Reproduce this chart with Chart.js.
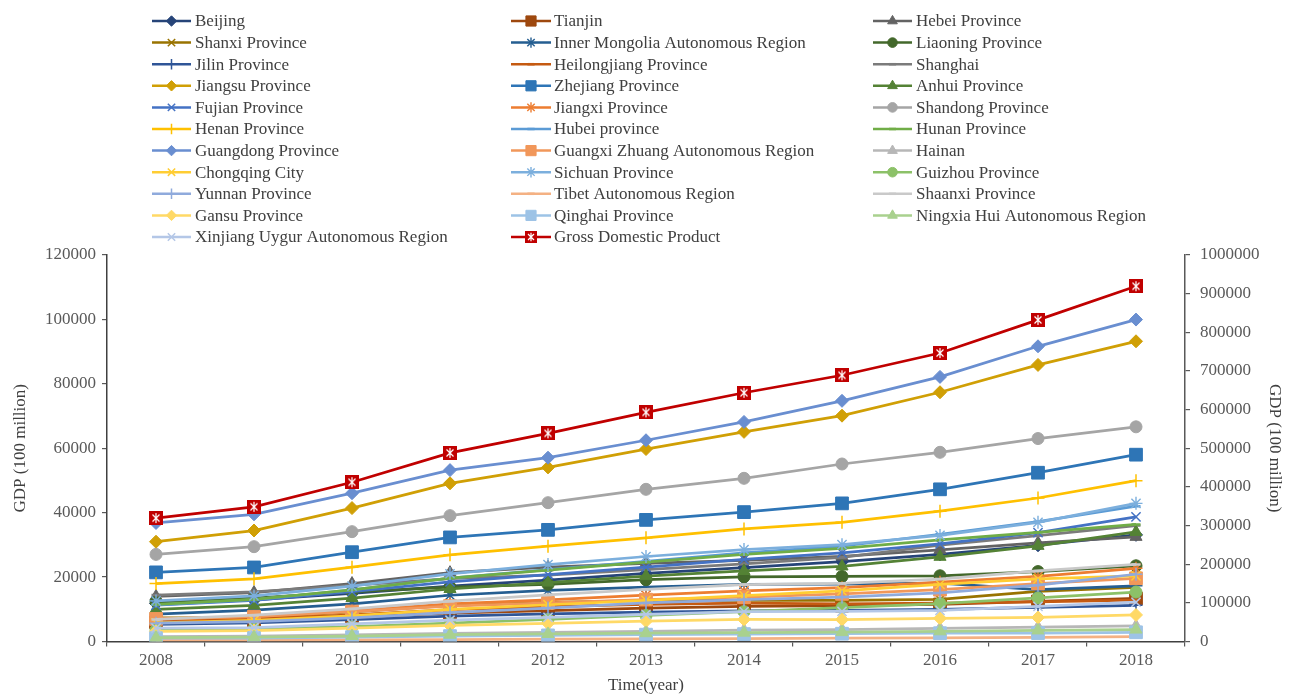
<!DOCTYPE html>
<html>
<head>
<meta charset="utf-8">
<title>GDP by province, 2008-2018</title>
<script src="https://cdn.jsdelivr.net/npm/chart.js@4/dist/chart.umd.min.js"></script>
<style>
  html, body { margin: 0; padding: 0; background: #ffffff; }
  #wrap { width: 1295px; height: 694px; position: relative; }
</style>
</head>
<body>
<div id="wrap"><canvas id="chart" width="1295" height="694"></canvas></div>
<script>
// Years on the category axis
const years = ['2008', '2009', '2010', '2011', '2012', '2013', '2014', '2015', '2016', '2017', '2018'];

// Tick values for the two value axes
const leftTicks = [0, 20000, 40000, 60000, 80000, 100000, 120000];
const rightTicks = [0, 100000, 200000, 300000, 400000, 500000, 600000, 700000, 800000, 900000, 1000000];

// Regional GDP, 100 million yuan
const beijing      = [11813, 12901, 14964, 17189, 19025, 21135, 22926, 24779, 27041, 29883, 33106];
const tianjin      = [6000, 6500, 7600, 8800, 9600, 10400, 10900, 11100, 11500, 12450, 13360];
const hebei        = [14000, 15200, 18000, 21380, 23080, 24260, 25210, 26400, 28470, 30640, 32490];
const shanxi       = [7315, 7358, 9201, 11238, 12113, 12665, 12761, 12766, 13050, 15528, 16818];
const innerMongolia= [8496, 9740, 11672, 14360, 15881, 16917, 17770, 17832, 18128, 16096, 17289];
const liaoning     = [12360, 13500, 15400, 16900, 17760, 19200, 20100, 20200, 20400, 21700, 23500];
const jilin        = [5300, 5800, 6800, 7900, 8600, 9100, 9500, 9700, 10000, 10600, 11250];
const heilongjiang = [6800, 7000, 8300, 9900, 10800, 11500, 11900, 11700, 11900, 12300, 12850];
const shanghai     = [14400, 15400, 17400, 19500, 20600, 22300, 24100, 26100, 29900, 32900, 36010];
const jiangsu      = [30982, 34457, 41425, 49110, 54058, 59753, 65088, 70116, 77388, 85870, 93208];
const zhejiang     = [21463, 22990, 27722, 32319, 34665, 37757, 40173, 42886, 47251, 52400, 58003];
const anhui        = [10000, 11200, 13500, 16300, 18300, 20300, 21900, 23300, 26300, 29700, 34010];
const fujian       = [11300, 12800, 15500, 18500, 20800, 23100, 25500, 27500, 30300, 33800, 38690];
const jiangxi      = [7000, 7700, 9500, 11700, 12950, 14400, 15700, 16700, 18400, 20200, 22720];
const shandong     = [27050, 29440, 34100, 39070, 43100, 47250, 50670, 55110, 58740, 63010, 66650];
const henan        = [18000, 19480, 23090, 26930, 29600, 32190, 34940, 37000, 40470, 44550, 49940];
const hubei        = [11400, 13000, 16000, 19700, 22300, 24900, 27500, 29600, 33300, 37200, 42020];
const hunan        = [11555, 13060, 16038, 19670, 22154, 24622, 27037, 28902, 31551, 33903, 36330];
const guangdong    = [36800, 39480, 46040, 53210, 57070, 62480, 68170, 74730, 82160, 91650, 99950];
const guangxi      = [7000, 7700, 9300, 11000, 12000, 13000, 13800, 14800, 16100, 18000, 19630];
const hainan       = [1503, 1654, 2065, 2523, 2856, 3178, 3501, 3703, 4053, 4463, 4832];
const chongqing    = [5794, 6530, 7926, 10011, 11410, 12783, 14263, 15717, 17741, 19425, 20363];
const sichuan      = [12600, 14150, 17190, 21030, 23870, 26390, 28540, 30050, 32930, 37000, 42900];
const guizhou      = [3560, 3910, 4600, 5700, 6850, 8090, 9270, 10500, 11780, 13540, 15350];
const yunnan       = [5700, 6200, 7300, 9000, 10400, 12000, 13000, 13800, 15100, 17500, 20880];
const tibet        = [394, 441, 507, 606, 701, 816, 921, 1026, 1151, 1311, 1478];
const shaanxi      = [6850, 8170, 10120, 12510, 14450, 16210, 17690, 18020, 19400, 21900, 23940];
const gansu        = [3166, 3388, 4121, 5020, 5650, 6331, 6837, 6790, 7200, 7460, 8246];
const qinghai      = [1018, 1081, 1350, 1670, 1894, 2122, 2303, 2417, 2572, 2625, 2865];
const ningxia      = [1203, 1353, 1690, 2102, 2341, 2578, 2752, 2912, 3169, 3444, 3705];
const xinjiang     = [4183, 4277, 5437, 6610, 7505, 8444, 9273, 9325, 9650, 10882, 12199];

// National GDP, 100 million yuan (right axis)
const nationalGdp  = [319245, 348518, 412119, 487940, 538580, 592963, 643563, 688858, 746395, 832036, 919281];

const SERIF = "'Liberation Serif', 'Times New Roman', serif";

// Red square marker with a white asterisk for the national series
function gdpMarker(size) {
  const c = document.createElement('canvas');
  c.width = size; c.height = size;
  const g = c.getContext('2d');
  g.fillStyle = '#c00000';
  g.fillRect(0, 0, size, size);
  g.strokeStyle = '#ffffff';
  g.lineWidth = 1.2;
  const a = size * 0.25, b = size * 0.75, m = size / 2;
  g.beginPath();
  g.moveTo(a, a); g.lineTo(b, b);
  g.moveTo(b, a); g.lineTo(a, b);
  g.moveTo(m, size * 0.15); g.lineTo(m, size * 0.85);
  g.stroke();
  return c;
}

// Marker shape cycle used by the series, with its radius and stroke
const shapes = [
  { style: 'rectRot', r: 6.5, bw: 1 },
  { style: 'rect', r: 9, bw: 1 },
  { style: 'triangle', r: 7, bw: 1 },
  { style: 'crossRot', r: 6.5, bw: 1.5 },
  { style: 'star', r: 6.5, bw: 1.4 },
  { style: 'circle', r: 6, bw: 1 },
  { style: 'cross', r: 6.5, bw: 1.5 },
  { style: 'line', r: 4.5, bw: 2.5 },
  { style: 'line', r: 4.5, bw: 2.5 }
];

const regions = [
  ['Beijing', beijing, '#264478'],
  ['Tianjin', tianjin, '#9e480e'],
  ['Hebei Province', hebei, '#636363'],
  ['Shanxi Province', shanxi, '#997300'],
  ['Inner Mongolia Autonomous Region', innerMongolia, '#255e91'],
  ['Liaoning Province', liaoning, '#43682b'],
  ['Jilin Province', jilin, '#2f5597'],
  ['Heilongjiang Province', heilongjiang, '#c55a11'],
  ['Shanghai', shanghai, '#7b7b7b'],
  ['Jiangsu Province', jiangsu, '#d09f05'],
  ['Zhejiang Province', zhejiang, '#2e75b6'],
  ['Anhui Province', anhui, '#548235'],
  ['Fujian Province', fujian, '#4472c4'],
  ['Jiangxi Province', jiangxi, '#ed7d31'],
  ['Shandong Province', shandong, '#a5a5a5'],
  ['Henan Province', henan, '#ffc000'],
  ['Hubei province', hubei, '#5b9bd5'],
  ['Hunan Province', hunan, '#70ad47'],
  ['Guangdong Province', guangdong, '#698ed0'],
  ['Guangxi Zhuang Autonomous Region', guangxi, '#f1975a'],
  ['Hainan', hainan, '#b7b7b7'],
  ['Chongqing City', chongqing, '#ffcd33'],
  ['Sichuan Province', sichuan, '#7cafdd'],
  ['Guizhou Province', guizhou, '#8cc168'],
  ['Yunnan Province', yunnan, '#8faadc'],
  ['Tibet Autonomous Region', tibet, '#f4b183'],
  ['Shaanxi Province', shaanxi, '#c9c9c9'],
  ['Gansu Province', gansu, '#ffd966'],
  ['Qinghai Province', qinghai, '#9dc3e6'],
  ['Ningxia Hui Autonomous Region', ningxia, '#a9d18e'],
  ['Xinjiang Uygur Autonomous Region', xinjiang, '#b4c7e7']
];

const datasets = regions.map(([label, values, color], i) => {
  const s = shapes[i % shapes.length];
  return {
    label, data: values, yAxisID: 'y',
    borderColor: color, backgroundColor: color,
    pointBackgroundColor: color, pointBorderColor: color,
    borderWidth: 2.75, tension: 0,
    pointStyle: s.style, pointRadius: s.r, pointBorderWidth: s.bw,
    pointHoverRadius: s.r,
    order: 100 - i
  };
});

const gdpPoint = gdpMarker(14);
datasets.push({
  label: 'Gross Domestic Product', data: nationalGdp, yAxisID: 'y1',
  borderColor: '#c00000', backgroundColor: '#c00000',
  pointBackgroundColor: '#c00000', pointBorderColor: '#c00000',
  borderWidth: 2.75, tension: 0,
  pointStyle: gdpPoint, pointRadius: 7, pointBorderWidth: 0, pointHoverRadius: 7,
  order: 0
});

// Three-column legend drawn above the plot
const legendPoint = gdpMarker(12);
const gridLegend = {
  id: 'gridLegend',
  afterDraw(chart) {
    const ctx = chart.ctx;
    const cols = [
      { x0: 152, x1: 191, tx: 195 },
      { x0: 511, x1: 551, tx: 554 },
      { x0: 873, x1: 912, tx: 916 }
    ];
    chart.data.datasets.forEach((ds, i) => {
      const col = cols[i % 3];
      const y = 21 + Math.floor(i / 3) * 21.6;
      ctx.save();
      ctx.strokeStyle = ds.borderColor;
      ctx.fillStyle = ds.pointBackgroundColor;
      ctx.lineWidth = 2.5;
      ctx.beginPath();
      ctx.moveTo(col.x0, y);
      ctx.lineTo(col.x1, y);
      ctx.stroke();
      const isImage = typeof ds.pointStyle === 'object';
      ctx.lineWidth = ds.pointBorderWidth;
      Chart.helpers.drawPoint(ctx, {
        pointStyle: isImage ? legendPoint : ds.pointStyle,
        rotation: 0,
        radius: isImage ? 6 : ds.pointRadius * 0.8,
        borderWidth: ds.pointBorderWidth
      }, (col.x0 + col.x1) / 2, y);
      ctx.fillStyle = '#404040';
      ctx.font = '17px ' + SERIF;
      ctx.textBaseline = 'middle';
      ctx.textAlign = 'left';
      ctx.fillText(ds.label, col.tx, y + 1);
      ctx.restore();
    });
  }
};

const axisColor = '#595959';

new Chart(document.getElementById('chart'), {
  type: 'line',
  data: { labels: years, datasets },
  plugins: [gridLegend],
  options: {
    responsive: false,
    animation: false,
    devicePixelRatio: 1,
    layout: { padding: { top: 255, left: 0, right: 0, bottom: 0 } },
    plugins: { legend: { display: false }, tooltip: { enabled: false } },
    scales: {
      x: {
        type: 'category',
        offset: true,
        grid: { offset: true, drawOnChartArea: false, drawTicks: true, tickLength: 5, color: axisColor, lineWidth: 1.2 },
        border: { display: true, color: '#404040', width: 1.5 },
        ticks: { font: { family: SERIF, size: 17 }, color: axisColor, padding: 4, maxRotation: 0, autoSkip: false },
        title: { display: true, text: 'Time(year)', color: '#404040', font: { family: SERIF, size: 17, lineHeight: 1 }, padding: { top: 0, bottom: 0 } },
        afterFit(s) { s.height = 52.5; }
      },
      y: {
        position: 'left',
        min: leftTicks[0], max: leftTicks[leftTicks.length - 1],
        afterBuildTicks(s) { s.ticks = leftTicks.map(v => ({ value: v })); },
        grid: { drawOnChartArea: false, drawTicks: true, tickLength: 5, color: axisColor, lineWidth: 1.2 },
        border: { display: true, color: '#404040', width: 1.5 },
        ticks: { font: { family: SERIF, size: 17 }, color: axisColor, padding: 6, callback: v => String(v) },
        title: { display: true, text: 'GDP (100 million)', color: '#404040', font: { family: SERIF, size: 17 }, padding: { top: 10, bottom: 0 } },
        afterFit(s) { s.width = 107; }
      },
      y1: {
        position: 'right',
        min: rightTicks[0], max: rightTicks[rightTicks.length - 1],
        afterBuildTicks(s) { s.ticks = rightTicks.map(v => ({ value: v })); },
        grid: { drawOnChartArea: false, drawTicks: true, tickLength: 5, color: axisColor, lineWidth: 1.2 },
        border: { display: true, color: axisColor, width: 1.5 },
        ticks: { font: { family: SERIF, size: 17 }, color: axisColor, padding: 10, callback: v => String(v) },
        title: { display: true, text: 'GDP (100 million)', color: '#404040', font: { family: SERIF, size: 17 }, padding: { top: 10, bottom: 0 } },
        afterFit(s) { s.width = 110; }
      }
    }
  }
});
</script>
</body>
</html>
